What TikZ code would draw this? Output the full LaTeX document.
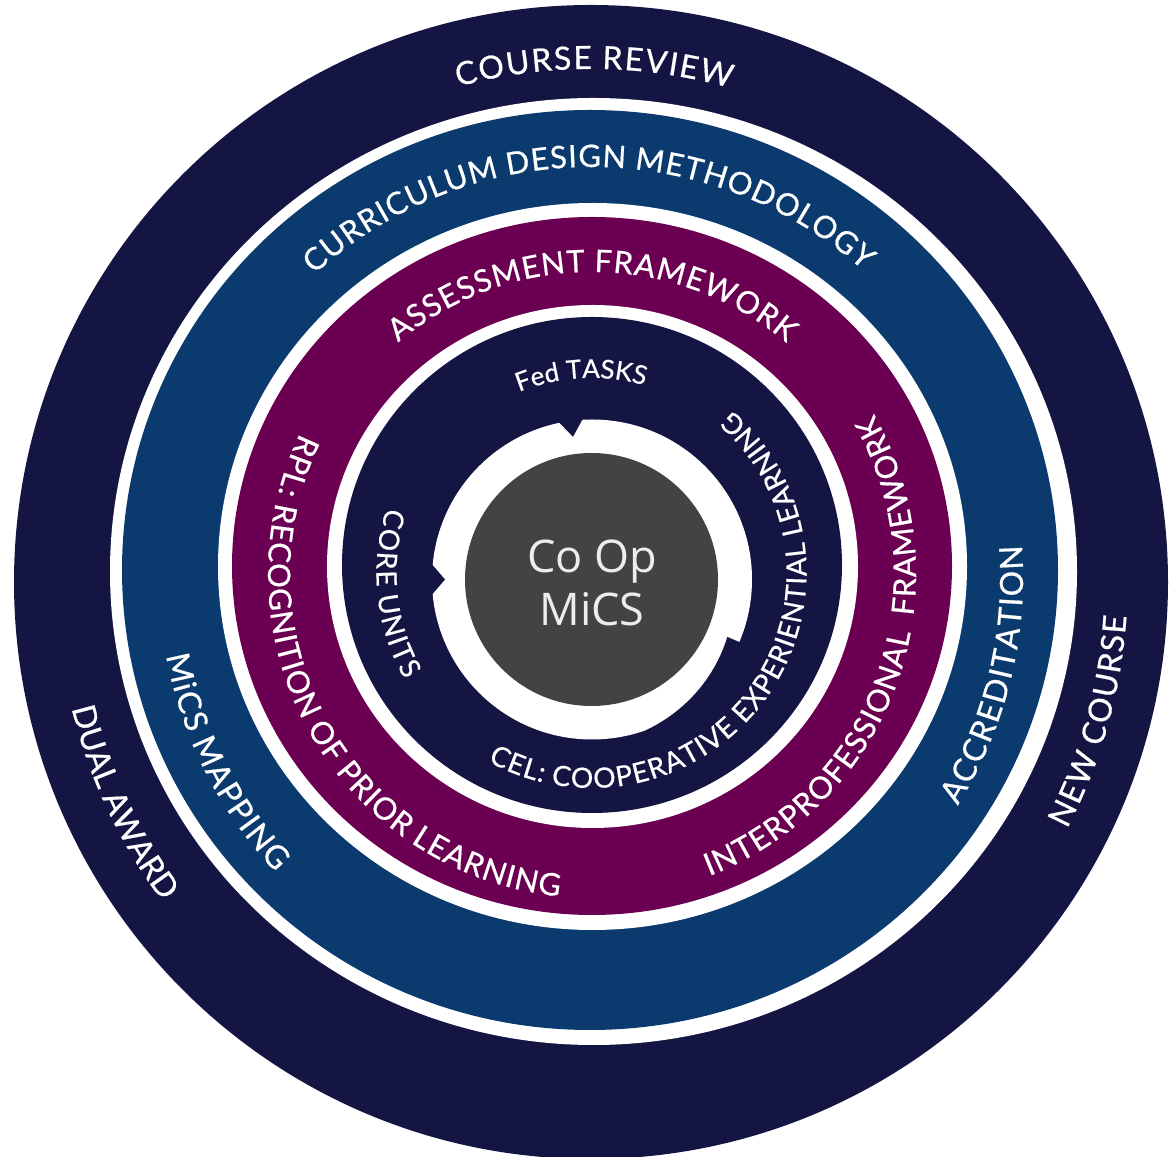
\documentclass[tikz,border=0pt]{standalone}
\usepackage{fontspec}
\setmainfont{Lato}
\newfontfamily\ringfam[FakeBold=0.6]{Lato}
\newfontfamily\innerfam[FakeBold=0.5]{Lato}
\newfontfamily\hubfont{Open Sans}
\usetikzlibrary{decorations.text}

\definecolor{navy}{HTML}{141543}
\definecolor{ringblue}{HTML}{0A3A6E}
\definecolor{plum}{HTML}{6B0052}
\definecolor{hubgrey}{HTML}{434343}
\definecolor{hubtext}{HTML}{EDEDED}

\newcommand\rimfont{\ringfam\fontsize{32}{32}\selectfont}
\newcommand\sidefont{\ringfam\fontsize{32}{32}\selectfont}
\newcommand\bandfont{\ringfam\fontsize{31}{31}\selectfont}
\newcommand\corefont{\innerfam\fontsize{28}{28}\selectfont}
\newcommand\tasksfont{\innerfam\fontsize{26}{26}\selectfont}
% tracking after each letter
\newcommand\ka{\kern1pt}
\newcommand\kb{\kern1.5pt}
\newcommand\kc{\kern1.8pt}

\tikzset{
  arctext/.style={decorate, decoration={text along path, text align=center,
      text color=white, text={#1}}},
}

\begin{document}
\begin{tikzpicture}[x=1pt, y=1pt]
  \useasboundingbox (0,0) rectangle (1171,1157);
  \clip (0,0) rectangle (1171,1157);
  \fill[white] (0,0) rectangle (1171,1157);

  % centres of the rings and of the lettering in each band
  \coordinate (C0) at (591,575);
  \coordinate (G)  at (592,577.5);
  \coordinate (T1) at (592,575.5);
  \coordinate (T2) at (591,580);
  \coordinate (T3) at (592,583);
  \coordinate (T4) at (591.5,584);

  % bands
  \fill[navy]     (C0) circle[radius=577];
  \fill[white]    (593.5,585.5) ellipse[x radius=483.5, y radius=473.5];
  \fill[ringblue] (590,587)     ellipse[x radius=468,   y radius=460];
  \fill[white]    (592.5,590.5) ellipse[x radius=374.5, y radius=363.5];
  \fill[plum]     (592,591)     ellipse[x radius=360,   y radius=349];
  \fill[white]    (592.5,590.5) ellipse[x radius=265.5, y radius=261.5];
  \fill[navy]     (592,592)     ellipse[x radius=250,   y radius=248];

  % white cycle ring around the hub, with its notches
  \fill[white] (G) circle[radius=160];
  \begin{scope}[shift={(G)}]
    \fill[navy] (102.6:164) -- (97.6:144) -- (92.6:164) -- cycle;
    \fill[navy] (186.5:164) -- (180:147) -- (173.5:164) -- cycle;
    \fill[navy] (-23:164) -- plot[domain=-23:-70, samples=30] (\x:{147+13*(-23-\x)/47})
      -- (-70:164) arc[start angle=-70, end angle=-23, radius=164] -- cycle;
  \end{scope}

  % hub
  \fill[hubgrey] (591.5,577.5) circle[radius=126.5];
  \node[font=\hubfont\fontsize{45}{53}\selectfont, text=hubtext, align=center]
    (hub) at (592,574) {Co Op\\MiCS};

  % outer band lettering
  \path[shift={(T1)}, arctext={|\rimfont|{C\kc}{O\kc}{U\kc}{R\kc}{S\kc}{E\kc} {R\kc}{E\kc}{V\kc}{I\kc}{E\kc}{W}}]
    (169.75:512.5) arc[start angle=169.75, end angle=9.75, radius=512.5];
  \path[shift={(T1)}, arctext={|\rimfont|DUAL AWARD}]
    (135.2:535.5) arc[start angle=135.2, end angle=275.2, radius=535.5];
  \path[shift={(T1)}, arctext={|\rimfont|{N\kb}{E\kb}{W\kb} {C\kb}{O\kb}{U\kb}{R\kb}{S\kb}{E}}]
    (-85.6:535.5) arc[start angle=-85.6, end angle=54.4, radius=535.5];

  % blue band lettering
  \path[shift={(T2)}, arctext={|\bandfont|{C\ka}{U\ka}{R\ka}{R\ka}{I\ka}{C\ka}{U\ka}{L\ka}{U\ka}{M\ka} {D\ka}{E\ka}{S\ka}{I\ka}{G\ka}{N\ka} {M\ka}{E\ka}{T\ka}{H\ka}{O\ka}{D\ka}{O\ka}{L\ka}{O\ka}{G\ka}{Y}}]
    (175.4:410) arc[start angle=175.4, end angle=5.4, radius=410];
  \path[shift={(T2)}, arctext={|\sidefont|{M\kb}{i\kb}{C\kb}{S\kb} {M\kb}{A\kb}{P\kb}{P\kb}{I\kb}{N\kb}{G}}]
    (136.8:432) arc[start angle=136.8, end angle=276.8, radius=432];
  \path[shift={(T2)}, arctext={|\sidefont|{A\kb}{C\kb}{C\kb}{R\kb}{E\kb}{D\kb}{I\kb}{T\kb}{A\kb}{T\kb}{I\kb}{O\kb}{N}}]
    (-83.85:432) arc[start angle=-83.85, end angle=56.15, radius=432];

  % plum band lettering
  \path[shift={(T3)}, arctext={|\bandfont|{A\ka}{S\ka}{S\ka}{E\ka}{S\ka}{S\ka}{M\ka}{E\ka}{N\ka}{T\ka} {F\ka}{R\ka}{A\ka}{M\ka}{E\ka}{W\ka}{O\ka}{R\ka}{K}}]
    (174.9:302) arc[start angle=174.9, end angle=4.9, radius=302];
  \path[shift={(T3)}, arctext={|\bandfont|{R\ka}{P\ka}{L\ka}{:\ka} {R\ka}{E\ka}{C\ka}{O\ka}{G\ka}{N\ka}{I\ka}{T\ka}{I\ka}{O\ka}{N\ka} {O\ka}{F\ka} {P\ka}{R\ka}{I\ka}{O\ka}{R\ka} {L\ka}{E\ka}{A\ka}{R\ka}{N\ka}{I\ka}{N\ka}{G}}]
    (129.25:324) arc[start angle=129.25, end angle=289.25, radius=324];
  \path[shift={(T3)}, arctext={|\bandfont|{I\ka}{N\ka}{T\ka}{E\ka}{R\ka}{P\ka}{R\ka}{O\ka}{F\ka}{E\ka}{S\ka}{S\ka}{I\ka}{O\ka}{N\ka}{A\ka}{L\ka}{\ \ }{F\ka}{R\ka}{A\ka}{M\ka}{E\ka}{W\ka}{O\ka}{R\ka}{K}}]
    (-99.6:324) arc[start angle=-99.6, end angle=60.4, radius=324];

  % inner band lettering
  \path[shift={(T4)}, arctext={|\tasksfont|Fed TASKS}]
    (153:195) arc[start angle=153, end angle=33, radius=195];
  \path[shift={(T4)}, arctext={|\corefont|{C\kc}{O\kc}{R\kc}{E\kc} {U\kc}{N\kc}{I\kc}{T\kc}{S}}]
    (126:215) arc[start angle=126, end angle=246, radius=215];
  \path[shift={(T4)}, arctext={|\corefont|{C\ka}{E\ka}{L\ka}{:\ka} {C\ka}{O\ka}{O\ka}{P\ka}{E\ka}{R\ka}{A\ka}{T\ka}{I\ka}{V\ka}{E\ka} {E\ka}{X\ka}{P\ka}{E\ka}{R\ka}{I\ka}{E\ka}{N\ka}{T\ka}{I\ka}{A\ka}{L\ka} {L\ka}{E\ka}{A\ka}{R\ka}{N\ka}{I\ka}{N\ka}{G}}]
    (-154.85:215) arc[start angle=-154.85, end angle=85.15, radius=215];
\end{tikzpicture}
\end{document}
